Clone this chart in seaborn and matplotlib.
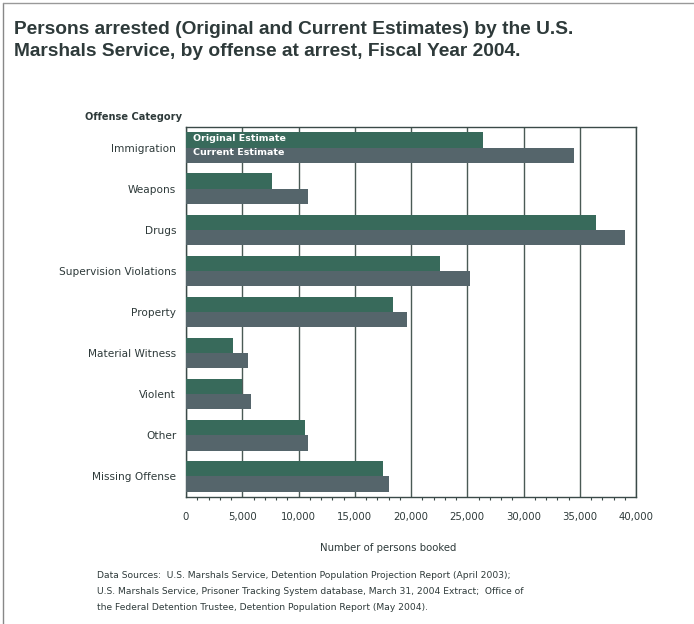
import matplotlib
matplotlib.use("Agg")
import matplotlib.pyplot as plt
import seaborn as sns
import pandas as pd
from matplotlib.ticker import MultipleLocator, FuncFormatter
from matplotlib.lines import Line2D

categories = ["Immigration", "Weapons", "Drugs", "Supervision Violations", "Property",
              "Material Witness", "Violent", "Other", "Missing Offense"]
original = [26400, 7600, 36400, 22600, 18400, 4200, 5000, 10600, 17500]
current = [34500, 10800, 39000, 25200, 19600, 5500, 5800, 10800, 18000]
series = ["Original Estimate", "Current Estimate"]
x_ticks = [0, 5000, 10000, 15000, 20000, 25000, 30000, 35000, 40000]

df = pd.DataFrame({
    "Offense": categories * 2,
    "Value": original + current,
    "Series": [series[0]] * len(categories) + [series[1]] * len(categories),
})

sns.set_theme(style="white")
plt.rcParams["font.family"] = ["DejaVu Sans"]
text_col = "#2e3a3a"

fig = plt.figure(figsize=(6.94, 6.24), dpi=100)
ax = fig.add_axes([186/694, 1-497/624, 450/694, 370/624])

palette = {series[0]: "#386a5b", series[1]: "#55656b"}
sns.barplot(data=df, y="Offense", x="Value", hue="Series", order=categories,
            hue_order=series, palette=palette, orient="h", width=0.74,
            saturation=1, ax=ax, zorder=3, legend=False, linewidth=0,
            edgecolor="none")

ax.set_xlim(0, 40000)
ax.set_xticks(x_ticks)
ax.xaxis.set_minor_locator(MultipleLocator(1000))
ax.xaxis.set_major_formatter(FuncFormatter(lambda v, p: f"{int(v):,}"))
ax.grid(axis="x", color="#4a5a55", linewidth=1.0, zorder=0)
ax.grid(axis="y", visible=False)
for s in ax.spines.values():
    s.set_color("#3a4a48")
    s.set_linewidth(1.0)
ax.tick_params(axis="x", which="major", direction="out", length=5, width=1,
               color="#3a4a48", labelsize=7.3, labelcolor=text_col, pad=6)
ax.tick_params(axis="x", which="minor", direction="out", length=2.5, width=0.8,
               color="#3a4a48", bottom=True)
ax.tick_params(axis="y", length=0, labelsize=7.6, labelcolor=text_col, pad=7)
ax.set_ylabel("")
ax.set_xlabel("Number of persons booked", fontsize=7.3, color=text_col)
ax.xaxis.set_label_coords((388-186)/450, -(543-497)/370)

handles = [Line2D([], [], linestyle="none") for _ in series]
leg = ax.legend(handles, series, loc="upper left", bbox_to_anchor=(0.0, 1.0),
                frameon=False, handlelength=0, handletextpad=0,
                labelcolor="white", prop={"weight": "bold", "size": 6.8},
                borderaxespad=0.3, labelspacing=0.62)
leg.set_zorder(10)

fig.text(14/694, 1-30/624, "Persons arrested (Original and Current Estimates) by the U.S.",
         fontsize=13.8, fontweight="bold", color=text_col, va="center", ha="left",
         family=["Liberation Sans", "DejaVu Sans"])
fig.text(14/694, 1-52/624, "Marshals Service, by offense at arrest, Fiscal Year 2004.",
         fontsize=13.8, fontweight="bold", color=text_col, va="center", ha="left",
         family=["Liberation Sans", "DejaVu Sans"])
fig.text(85/694, 1-117/624, "Offense Category", fontsize=7.1, fontweight="bold",
         color=text_col, va="center", ha="left")

src = ["Data Sources:  U.S. Marshals Service, Detention Population Projection Report (April 2003);",
       "U.S. Marshals Service, Prisoner Tracking System database, March 31, 2004 Extract;  Office of",
       "the Federal Detention Trustee, Detention Population Report (May 2004)."]
for i, line in enumerate(src):
    fig.text(97/694, 1-(576+15.5*i)/624, line, fontsize=6.6, color=text_col,
             va="center", ha="left")

# scan border lines
fig.add_artist(Line2D([3/694, 3/694], [0, 1-3/624], transform=fig.transFigure,
                      color="#888888", linewidth=1))
fig.add_artist(Line2D([3/694, 1], [1-3/624, 1-3/624], transform=fig.transFigure,
                      color="#999999", linewidth=1))

fig.savefig("out.png", dpi=100)
